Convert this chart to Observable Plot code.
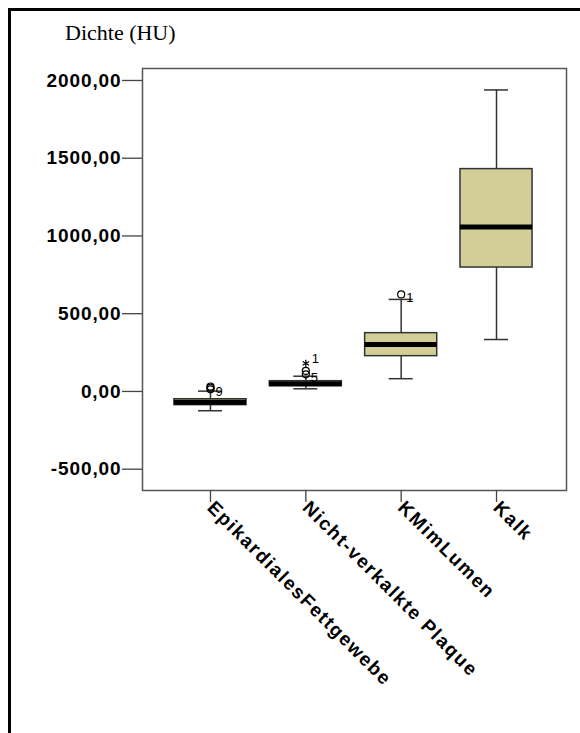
<!DOCTYPE html>
<html>
<head>
<meta charset="utf-8">
<script src="https://cdn.jsdelivr.net/npm/d3@7"></script>
<script src="https://cdn.jsdelivr.net/npm/@observablehq/plot@0.6"></script>
<style>
  html, body { margin: 0; padding: 0; background: #fff; }
  #page { position: relative; width: 580px; height: 733px; overflow: hidden; }
  #border { position: absolute; left: 8px; top: 8px; width: 580px; height: 733px;
    border-left: 3px solid #000; border-top: 3px solid #000; box-sizing: border-box; }
  #title { position: absolute; left: 65px; top: 20px; font-family: "Liberation Serif", "Times New Roman", serif;
    font-size: 22px; color: #000; white-space: nowrap; }
  #chart { position: absolute; left: 0; top: 0; }
  #chart g[aria-label="y-axis tick label"] text { letter-spacing: 0.9px; }
  #chart g[aria-label="x-axis tick label"] text { letter-spacing: 1.6px; }
</style>
</head>
<body>
<div id="page">
  <div id="border"></div>
  <div id="title">Dichte (HU)</div>
  <div id="chart"></div>
</div>
<script>
const categories = ["EpikardialesFettgewebe", "Nicht-verkalkte Plaque", "KMimLumen", "Kalk"];
const whiskerLow  = [-124, 17, 82, 334];
const q1          = [-88, 34, 227, 797];
const median      = [-70, 50, 302, 1057];
const q3          = [-50, 66, 375, 1430];
const whiskerHigh = [2, 98, 592, 1939];

// outliers: category index, value, symbol, label
const outlierCat    = [0, 0, 0, 1, 1, 1, 2];
const outlierValue  = [32, 24, 14, 180, 132, 110, 624];
const outlierSymbol = ["circle", "circle", "circle", "asterisk", "circle", "circle", "circle"];
const outlierLabel  = ["", "", "9", "1", "", "5", "1"];

const yTicks = [-500, 0, 500, 1000, 1500, 2000];

const boxes = categories.map((c, i) => ({
  i, c, lo: whiskerLow[i], q1: q1[i], med: median[i], q3: q3[i], hi: whiskerHigh[i]
}));
const outliers = outlierCat.map((c, k) => ({
  i: c, v: outlierValue[k], s: outlierSymbol[k], label: outlierLabel[k]
}));
const starLabels = outliers.filter(d => d.label !== "" && d.s === "asterisk");
const circleLabels = outliers.filter(d => d.label !== "" && d.s !== "asterisk");

const boxHalf = 0.378;
const capHalf = 0.126;
const fmt = d => d.toFixed(2).replace(".", ",");

const chart = Plot.plot({
  width: 580,
  height: 733,
  marginLeft: 142,
  marginRight: 14,
  marginTop: 68,
  marginBottom: 243,
  style: { fontFamily: "'Liberation Sans', Arial, sans-serif", background: "transparent", overflow: "visible" },
  x: { domain: [-0.713, 3.734], axis: null, label: null },
  y: { domain: [-637, 2077], axis: null, label: null },
  symbol: { type: "identity" },
  marks: [
    Plot.frame({ stroke: "#555", strokeWidth: 1.5 }),
    Plot.axisY({
      ticks: yTicks, tickFormat: fmt, tickSize: 20, tickPadding: 1, label: null,
      stroke: "#444", strokeWidth: 1.3, fontSize: 19, fontWeight: "bold", fill: "#000"
    }),
    Plot.axisX({
      ticks: [0, 1, 2, 3], tickFormat: i => categories[i], tickSize: 12, tickPadding: 2, tickRotate: 45, label: null,
      stroke: "#444", strokeWidth: 1.3, fontSize: 19, fontWeight: "bold", fill: "#000"
    }),
    // whiskers
    Plot.ruleX(boxes, { x: "i", y1: "lo", y2: "hi", stroke: "#333", strokeWidth: 1.5 }),
    Plot.ruleY(boxes, { y: "lo", x1: d => d.i - capHalf, x2: d => d.i + capHalf, stroke: "#333", strokeWidth: 1.5 }),
    Plot.ruleY(boxes, { y: "hi", x1: d => d.i - capHalf, x2: d => d.i + capHalf, stroke: "#333", strokeWidth: 1.5 }),
    // boxes
    Plot.rect(boxes, { x1: d => d.i - boxHalf, x2: d => d.i + boxHalf, y1: "q1", y2: "q3",
      fill: "#d3ce98", stroke: "#333", strokeWidth: 1.5 }),
    Plot.ruleY(boxes, { y: "med", x1: d => d.i - boxHalf, x2: d => d.i + boxHalf, stroke: "#000", strokeWidth: 5 }),
    // outliers
    Plot.dot(outliers, { x: "i", y: "v", symbol: "s", r: 3.5, stroke: "#000", strokeWidth: 1.2, fill: "none" }),
    Plot.text(starLabels, { x: "i", y: "v", text: "label", dx: 6, dy: -5,
      textAnchor: "start", fontSize: 13, fill: "#000" }),
    Plot.text(circleLabels, { x: "i", y: "v", text: "label", dx: 5, dy: 3,
      textAnchor: "start", fontSize: 13, fill: "#000" })
  ]
});
document.getElementById("chart").appendChild(chart);
</script>
</body>
</html>
